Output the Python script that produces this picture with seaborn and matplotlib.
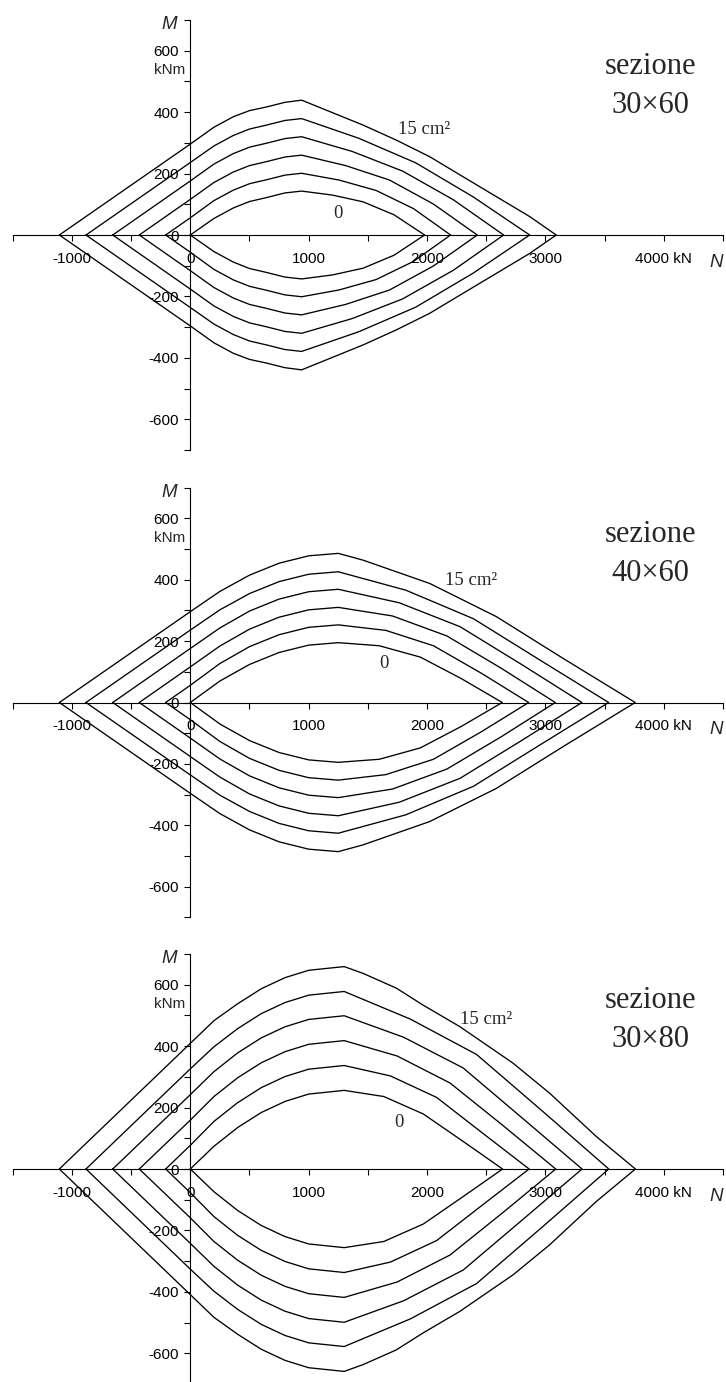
import matplotlib
matplotlib.use("Agg")
import matplotlib.pyplot as plt
from matplotlib.ticker import FixedLocator
import pandas as pd
import seaborn as sns

# ---------------- data ----------------
AREAS = [0, 3, 6, 9, 12, 15]  # reinforcement, cm^2

# upper half of each interaction domain (N in kN, M in kNm); lower half is the mirror
N_30x60 = [
    [0, 200, 363, 500, 645, 800, 941, 1201, 1460, 1720, 1980],
    [-208, 0, 200, 363, 500, 645, 800, 941, 1256, 1570, 1885, 2199],
    [-431, 0, 200, 363, 500, 645, 800, 941, 1312, 1683, 2053, 2424],
    [-655, 0, 200, 363, 500, 645, 800, 941, 1368, 1794, 2221, 2647],
    [-881, 0, 200, 363, 500, 645, 800, 941, 1423, 1904, 2386, 2867],
    [-1106, 0, 200, 363, 500, 645, 800, 941, 1459, 1740, 2022, 2303, 2585, 2867, 3091],
]
M_30x60 = [
    [0, 54, 88, 109, 122, 137, 143, 130, 108, 66, 0],
    [0, 56, 112, 146, 167, 180, 195, 201, 179, 145, 86, 0],
    [0, 116, 171, 205, 226, 239, 254, 260, 226, 179, 101, 0],
    [0, 176, 231, 265, 286, 299, 314, 320, 272, 208, 115, 0],
    [0, 236, 290, 324, 345, 358, 373, 379, 315, 235, 125, 0],
    [0, 296, 351, 385, 405, 417, 432, 439, 358, 309, 255, 190, 125, 60, 0],
]

N_40x60 = [
    [0, 250, 500, 750, 1000, 1250, 1596, 1943, 2289, 2635],
    [-208, 0, 250, 500, 750, 1000, 1250, 1652, 2054, 2456, 2858],
    [-431, 0, 250, 500, 750, 1000, 1250, 1708, 2167, 2625, 3083],
    [-655, 0, 250, 500, 750, 1000, 1250, 1765, 2279, 2794, 3308],
    [-881, 0, 250, 500, 750, 1000, 1250, 1821, 2392, 2963, 3534],
    [-1106, 0, 250, 500, 750, 1000, 1250, 1459, 2022, 2585, 3148, 3758],
]
M_40x60 = [
    [0, 70, 124, 163, 187, 195, 185, 148, 78, 0],
    [0, 56, 127, 182, 221, 245, 253, 235, 185, 96, 0],
    [0, 116, 184, 239, 278, 302, 310, 282, 217, 112, 0],
    [0, 176, 243, 298, 337, 361, 369, 325, 247, 125, 0],
    [0, 236, 302, 355, 394, 418, 426, 366, 273, 136, 0],
    [0, 296, 362, 415, 454, 478, 486, 464, 388, 280, 144, 0],
]

N_30x80 = [
    [0, 200, 400, 600, 800, 1000, 1300, 1635, 1969, 2304, 2638],
    [-208, 0, 200, 400, 600, 800, 1000, 1300, 1691, 2081, 2472, 2862],
    [-431, 0, 200, 400, 600, 800, 1000, 1300, 1747, 2194, 2640, 3087],
    [-655, 0, 200, 400, 600, 800, 1000, 1300, 1802, 2305, 2807, 3309],
    [-881, 0, 200, 400, 600, 800, 1000, 1300, 1859, 2418, 2976, 3535],
    [-1106, 0, 200, 400, 600, 800, 1000, 1300, 1459, 1740, 1965, 2275, 2725, 3035, 3429, 3760],
]
M_30x80 = [
    [0, 74, 135, 184, 220, 244, 256, 236, 179, 90, 0],
    [0, 77, 155, 216, 265, 301, 325, 337, 303, 233, 116, 0],
    [0, 159, 236, 297, 346, 382, 406, 418, 368, 280, 142, 0],
    [0, 242, 317, 378, 427, 463, 487, 499, 429, 329, 165, 0],
    [0, 326, 398, 457, 506, 542, 566, 578, 488, 373, 188, 0],
    [0, 409, 483, 538, 587, 623, 647, 659, 637, 589, 534, 464, 345, 247, 106, 0],
]

SECTIONS = ["30×60", "40×60", "30×80"]
X_TICKS = [-1000, 0, 1000, 2000, 3000, 4000]
X_TICK_LABELS = ["-1000", "0", "1000", "2000", "3000", "4000 kN"]
X_MINOR = [-1500, -500, 500, 1500, 2500, 3500, 4500]
Y_TICKS = [-600, -400, -200, 0, 200, 400, 600]
Y_TICK_LABELS = ["-600", "-400", "-200", "0", "200", "400", "600"]
Y_MINOR = [-700, -500, -300, -100, 100, 300, 500, 700]
LABEL_ZERO_POS = [(1247, 54), (1633, 112), (1763, 138)]
LABEL_MAX_POS = [(1754, 328), (2148, 383), (2275, 472)]

# ---------------- figure ----------------
sns.set_theme(style="white")
plt.rcParams["font.family"] = ["Liberation Sans", "DejaVu Sans"]
SERIF = ["Liberation Serif", "DejaVu Serif"]

fig = plt.figure(figsize=(7.26, 13.82), dpi=100)
fig.patch.set_facecolor("white")
rects = [
    [0.0175, 0.67438, 0.9784, 0.31114],
    [0.0175, 0.33625, 0.9784, 0.31085],
    [0.0175, -0.00145, 0.9784, 0.31114],
]
panels = [(N_30x60, M_30x60), (N_40x60, M_40x60), (N_30x80, M_30x80)]

for p, (rect, (Ns, Ms)) in enumerate(zip(rects, panels)):
    ax = fig.add_axes(rect)
    ax.patch.set_alpha(0)

    rows = []
    for area, n, m in zip(AREAS, Ns, Ms):
        xs = list(n) + list(n)[::-1]
        ys = list(m) + [-v for v in list(m)[::-1]]
        for i, (x, y) in enumerate(zip(xs, ys)):
            rows.append({"N": x, "M": y, "area": area, "order": i})
    df = pd.DataFrame(rows)
    sns.lineplot(data=df, x="N", y="M", units="area", estimator=None, sort=False,
                 color="black", linewidth=0.95, ax=ax, legend=False)

    ax.set_xlim(-1500, 4500)
    ax.set_ylim(-700, 700)
    ax.set_xlabel("")
    ax.set_ylabel("")
    ax.grid(False)
    for s in ["top", "right"]:
        ax.spines[s].set_visible(False)
    for s in ["left", "bottom"]:
        ax.spines[s].set_position(("data", 0))
        ax.spines[s].set_color("black")
        ax.spines[s].set_linewidth(0.8)

    ax.set_xticks(X_TICKS)
    ax.set_xticklabels(X_TICK_LABELS)
    ax.xaxis.set_minor_locator(FixedLocator(X_MINOR))
    ax.set_yticks(Y_TICKS)
    ax.set_yticklabels(Y_TICK_LABELS)
    ax.yaxis.set_minor_locator(FixedLocator(Y_MINOR))
    ax.tick_params(axis="both", which="both", direction="out", length=4, width=0.8,
                   color="black", labelsize=11, labelcolor="black",
                   bottom=True, left=True, top=False, right=False)
    ax.tick_params(axis="x", which="major", pad=8)
    ax.tick_params(axis="y", which="major", pad=4)

    ax.text(-180, 670, "M", style="italic", fontsize=13.5, ha="center", va="baseline")
    ax.text(-40, 524, "kNm", fontsize=11, ha="right", va="baseline")
    ax.text(4443, -103, "N", style="italic", fontsize=13.5, ha="center", va="baseline")

    ax.text(3885, 524, "sezione", family=SERIF, fontsize=22, ha="center", va="baseline")
    ax.text(3885, 397, SECTIONS[p], family=SERIF, fontsize=22, ha="center", va="baseline")

    x0, y0 = LABEL_ZERO_POS[p]
    ax.text(x0, y0, "0", family=SERIF, fontsize=13.5, ha="center", va="baseline")
    x1, y1 = LABEL_MAX_POS[p]
    ax.text(x1, y1, "15 cm²", family=SERIF, fontsize=13.5, ha="left", va="baseline")

fig.savefig("out.png", dpi=100, facecolor="white")
